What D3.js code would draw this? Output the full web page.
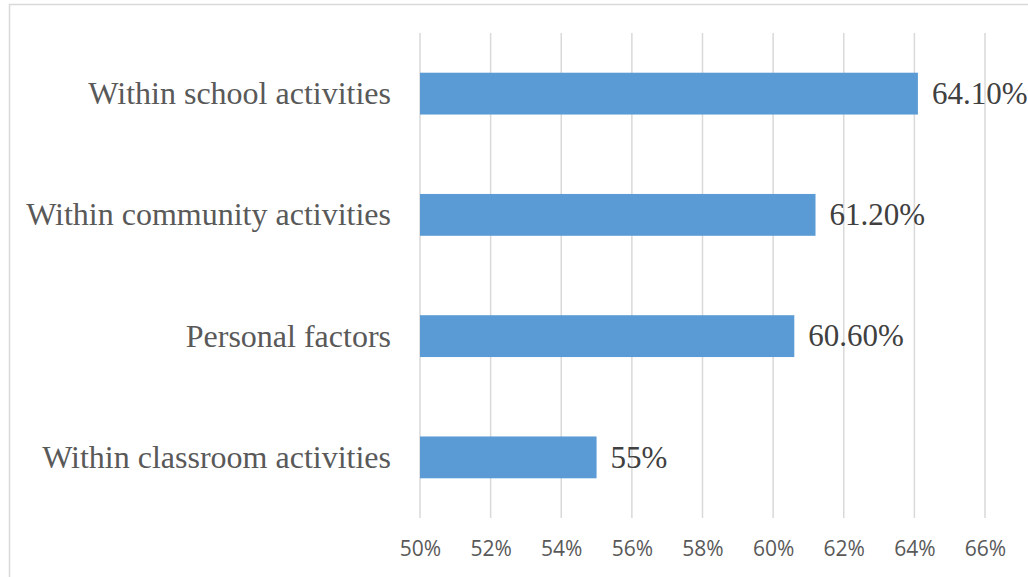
<!DOCTYPE html>
<html>
<head>
<meta charset="utf-8">
<script src="https://cdn.jsdelivr.net/npm/d3@7"></script>
<style>
  html, body { margin: 0; padding: 0; background: #fff; }
  svg { display: block; }
</style>
</head>
<body>
<svg id="chart" width="1028" height="577"></svg>
<script>
// Categories (top to bottom) and their percentages
const categories = [
  "Within school activities",
  "Within community activities",
  "Personal factors",
  "Within classroom activities"
];
const values = [64.1, 61.2, 60.6, 55];
const valueLabels = ["64.10%", "61.20%", "60.60%", "55%"];
const tickValues = [50, 52, 54, 56, 58, 60, 62, 64, 66];

const svg = d3.select("#chart");
const W = 1028, H = 577;
const margin = { left: 420, right: W - 985, top: 33, bottom: H - 518 };

// Outer chart frame
svg.append("rect")
  .attr("x", 9.5).attr("y", 4.5)
  .attr("width", W + 10).attr("height", H + 10)
  .attr("fill", "#fff")
  .attr("stroke", "#d9d9d9")
  .attr("stroke-width", 1.5);

const x = d3.scaleLinear()
  .domain([50, 66])
  .range([margin.left, W - margin.right]);

const y = d3.scaleBand()
  .domain(categories)
  .range([margin.top, H - margin.bottom])
  .paddingInner(0.655)
  .paddingOuter(0.3275);

// Vertical gridlines
svg.append("g")
  .selectAll("line")
  .data(tickValues)
  .join("line")
  .attr("x1", d => x(d)).attr("x2", d => x(d))
  .attr("y1", margin.top).attr("y2", H - margin.bottom)
  .attr("stroke", "#d9d9d9")
  .attr("stroke-width", 1.5);

// Bottom axis labels
const xAxis = d3.axisBottom(x)
  .tickValues(tickValues)
  .tickFormat(d => d + "%")
  .tickSize(0)
  .tickPadding(0);

const gx = svg.append("g")
  .attr("transform", `translate(0,${H - margin.bottom})`)
  .call(xAxis);
gx.select(".domain").remove();
gx.selectAll("text")
  .attr("y", 38)
  .attr("dy", 0)
  .attr("fill", "#595959")
  .style("font-family", "'Open Sans', sans-serif")
  .style("font-size", "21px");

// Category labels
const yAxis = d3.axisLeft(y).tickSize(0).tickPadding(0);
const gy = svg.append("g")
  .attr("transform", `translate(391,0)`)
  .call(yAxis);
gy.select(".domain").remove();
gy.selectAll("text")
  .attr("x", 0)
  .attr("dy", "0.33em")
  .attr("fill", "#595959")
  .style("font-family", "'Liberation Serif', 'Times New Roman', serif")
  .style("font-size", "32px");

// Bars
svg.append("g")
  .selectAll("rect")
  .data(categories)
  .join("rect")
  .attr("x", x(50))
  .attr("y", d => y(d))
  .attr("width", (d, i) => x(values[i]) - x(50))
  .attr("height", y.bandwidth())
  .attr("fill", "#5b9bd5");

// Value labels
svg.append("g")
  .selectAll("text")
  .data(categories)
  .join("text")
  .attr("x", (d, i) => x(values[i]) + 14)
  .attr("y", d => y(d) + y.bandwidth() / 2)
  .attr("dy", "0.33em")
  .attr("fill", "#404040")
  .style("font-family", "'Liberation Serif', 'Times New Roman', serif")
  .style("font-size", "31px")
  .text((d, i) => valueLabels[i]);
</script>
</body>
</html>
